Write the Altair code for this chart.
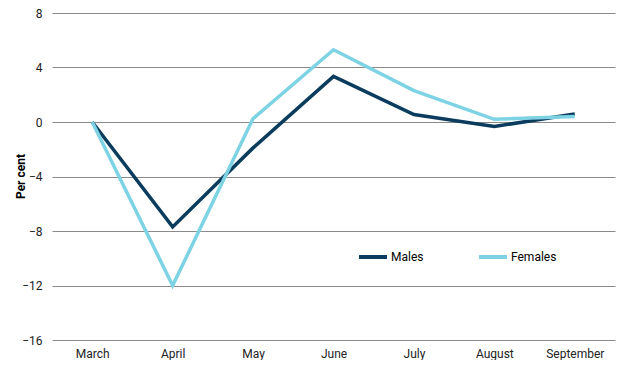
import altair as alt
import pandas as pd

months = ["March", "April", "May", "June", "July", "August", "September"]
males = [0.0, -7.7, -1.9, 3.35, 0.55, -0.33, 0.58]
females = [0.0, -12.0, 0.25, 5.3, 2.3, 0.2, 0.4]
series = ["Males", "Females"]
colors = ["#0b3c5d", "#7dd3e3"]

rows = []
for m, v in zip(months, males):
    rows.append({"Month": m, "Series": "Males", "Value": v})
for m, v in zip(months, females):
    rows.append({"Month": m, "Series": "Females", "Value": v})
df = pd.DataFrame(rows)

font = "Roboto"

chart = alt.Chart(df).mark_line(strokeWidth=3.5).encode(
    x=alt.X("Month:N", sort=months, title=None,
            scale=alt.Scale(paddingInner=0, paddingOuter=0),
            axis=alt.Axis(labelAngle=0, ticks=False, domain=False, grid=False,
                          labelPadding=8, labelFontSize=12, labelColor="#222",
                          labelFont=font)),
    y=alt.Y("Value:Q", title="Per cent",
            scale=alt.Scale(domain=[-16, 8], nice=False),
            axis=alt.Axis(values=[-16, -12, -8, -4, 0, 4, 8], ticks=False, domain=False,
                          grid=True, gridColor="#8a8a8a", gridWidth=1,
                          labelPadding=10, labelFontSize=12, labelColor="#222",
                          labelFont=font, titleFont=font, titleFontSize=12,
                          titleFontWeight="bold", titleColor="#000",
                          titleX=-32, titleY=163, titleBaseline="middle",
                          titleAngle=-90, titleAlign="center")),
    color=alt.Color("Series:N", sort=series,
                    scale=alt.Scale(domain=series, range=colors),
                    legend=alt.Legend(title=None, orient="none", direction="horizontal",
                                      legendX=305, legendY=228,
                                      symbolType="stroke", symbolSize=784,
                                      symbolStrokeWidth=4, labelOffset=2,
                                      labelFontSize=12, labelFont=font,
                                      labelColor="#000", columnPadding=47)),
).properties(
    width=563, height=327,
    autosize=alt.AutoSizeParams(type="none"),
    padding={"left": 44, "top": 5, "right": 8, "bottom": 20},
).configure_view(stroke=None)

chart.save("out.html", embed_options={"renderer": "svg", "actions": False})
